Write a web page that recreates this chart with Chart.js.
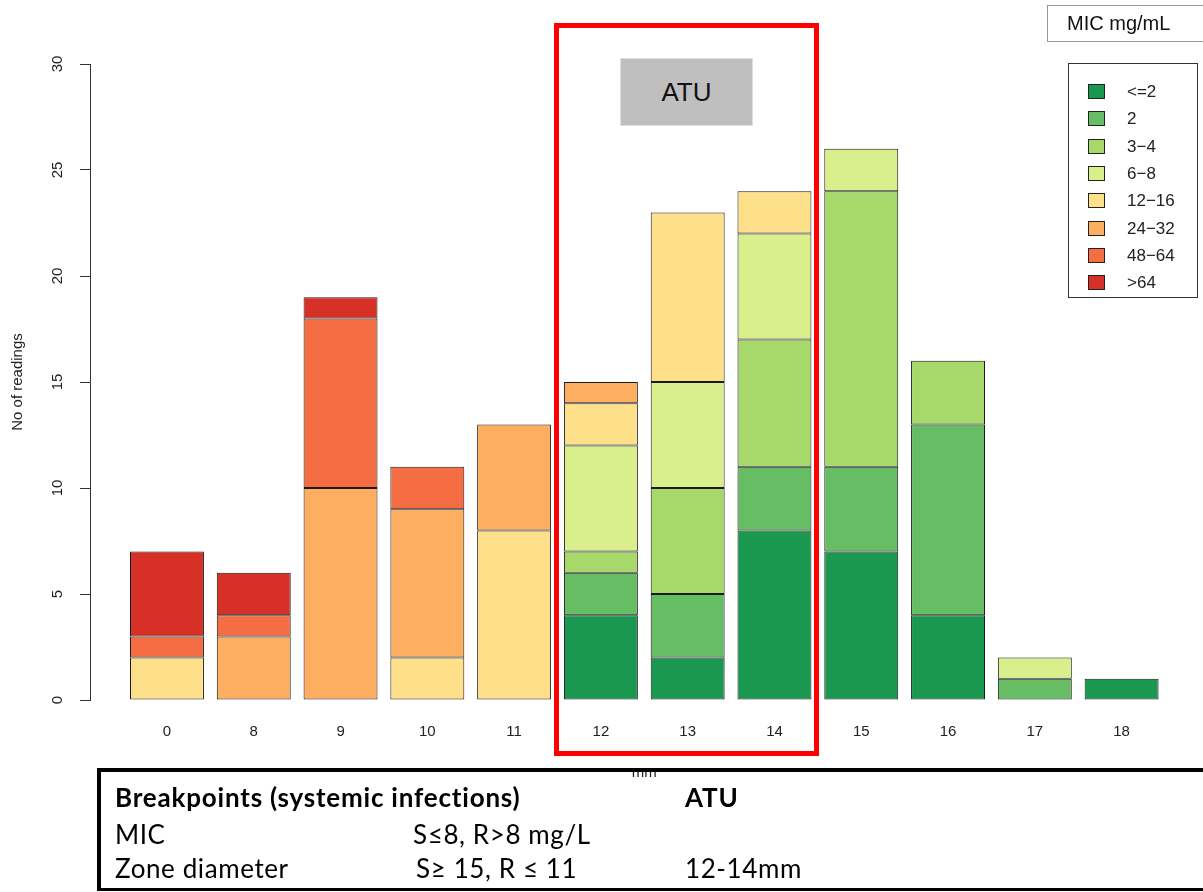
<!DOCTYPE html>
<html>
<head>
<meta charset="utf-8">
<script src="https://cdn.jsdelivr.net/npm/chart.js@4.4.0/dist/chart.umd.min.js"></script>
<style>
html,body{margin:0;padding:0;background:#fff;width:1203px;height:892px;overflow:hidden;}
#wrap{position:relative;width:1203px;height:892px;overflow:hidden;}
#c{position:absolute;left:0;top:0;}
#atuRect{position:absolute;left:554px;top:23px;width:265px;height:733px;box-sizing:border-box;border:5px solid #ff0000;}
#atuLabel{position:absolute;left:620px;top:58px;width:133px;height:68px;background:#bfbfbf;border:1px solid #dedede;box-sizing:border-box;
  font:26px "Liberation Sans",Arial,sans-serif;color:#111;text-align:center;line-height:66px;}
#micTitle{position:absolute;left:1047px;top:5px;width:170px;height:37px;box-sizing:border-box;border:1px solid #9a9a9a;
  font:20px "Liberation Sans",Arial,sans-serif;color:#111;line-height:35px;padding-left:19px;}
#legend{position:absolute;left:1068px;top:63px;width:130px;height:235px;box-sizing:border-box;border:1px solid #333;}
.lg{position:absolute;left:0;height:20px;width:128px;}
.sw{position:absolute;left:19px;top:2px;width:17px;height:15px;box-sizing:border-box;border:1px solid #222;}
.lt{position:absolute;left:58px;top:0;font:17px "Liberation Sans",Arial,sans-serif;color:#222;line-height:20px;}
#table{position:absolute;left:97px;top:768px;width:1130px;height:123px;box-sizing:border-box;border:4px solid #000;border-bottom-width:3px;}
.tt{position:absolute;font-family:Lato,"Noto Sans",sans-serif;font-size:26px;letter-spacing:0.6px;color:#000;line-height:30px;white-space:nowrap;}
.tb{font-weight:bold;letter-spacing:0.8px;}
</style>
</head>
<body>
<div id="wrap">
  <canvas id="c" width="1203" height="892"></canvas>
  <div id="atuRect"></div>
  <div id="atuLabel">ATU</div>
  <div id="micTitle">MIC mg/mL</div>
  <div id="legend"></div>
  <div id="table">
    <div class="tt tb" style="left:14px;top:10px;">Breakpoints (systemic infections)</div>
    <div class="tt tb" style="left:584px;top:10px;">ATU</div>
    <div class="tt" style="left:14px;top:47px;">MIC</div>
    <div class="tt" style="left:312px;top:47px;">S≤8, R&gt;8 mg/L</div>
    <div class="tt" style="left:14px;top:81px;">Zone diameter</div>
    <div class="tt" style="left:315px;top:81px;">S≥ 15, R ≤ 11</div>
    <div class="tt" style="left:584px;top:81px;">12-14mm</div>
  </div>
</div>
<script>
// ---- data ----
const zoneDiameters = ['0','8','9','10','11','12','13','14','15','16','17','18'];
const micClasses = ['<=2','2','3\u22124','6\u22128','12\u221216','24\u221232','48\u221264','>64'];
const micColors = ['#1a9850','#66bd63','#a6d96a','#d9ef8b','#fee08b','#fdae61','#f46d43','#d73027'];
const countsLe2   = [0,0,0,0,0,4,2,8,7,4,0,1];
const counts2     = [0,0,0,0,0,2,3,3,4,9,1,0];
const counts3to4  = [0,0,0,0,0,1,5,6,13,3,0,0];
const counts6to8  = [0,0,0,0,0,5,5,5,2,0,1,0];
const counts12to16= [2,0,0,2,8,2,8,2,0,0,0,0];
const counts24to32= [0,3,10,7,5,1,0,0,0,0,0,0];
const counts48to64= [1,1,8,2,0,0,0,0,0,0,0,0];
const countsGt64  = [4,2,1,0,0,0,0,0,0,0,0,0];
const yTicks = [0,5,10,15,20,25,30];
const yTitle = 'No of readings';
const xTitle = 'mm';

const seriesCounts = [countsLe2,counts2,counts3to4,counts6to8,counts12to16,counts24to32,counts48to64,countsGt64];

const datasets = seriesCounts.map((arr, k) => ({
  label: micClasses[k],
  data: arr.map((v, i) => ({x: i, y: v === 0 ? null : v})),
  backgroundColor: micColors[k],
  borderColor: '#1a1a1a',
  borderWidth: 1,
  borderSkipped: false,
  categoryPercentage: 0.852,
  barPercentage: 1.0
}));

// legend (HTML, built from the series arrays)
const lg = document.getElementById('legend');
micClasses.forEach((name, k) => {
  const row = document.createElement('div');
  row.className = 'lg';
  row.style.top = (18 + k * 27.3) + 'px';
  const sw = document.createElement('div');
  sw.className = 'sw';
  sw.style.background = micColors[k];
  const t = document.createElement('div');
  t.className = 'lt';
  t.textContent = name;
  row.appendChild(sw); row.appendChild(t);
  lg.appendChild(row);
});

const axisText = {
  id: 'axisText',
  afterDraw(chart) {
    const ctx = chart.ctx;
    const ys = chart.scales.y, xs = chart.scales.x;
    ctx.save();
    ctx.fillStyle = '#222';
    ctx.font = '15px "Liberation Sans", Arial, sans-serif';
    ctx.textAlign = 'center';
    ctx.textBaseline = 'middle';
    yTicks.forEach(v => {
      const py = ys.getPixelForValue(v);
      ctx.save();
      ctx.translate(58, py);
      ctx.rotate(-Math.PI / 2);
      ctx.fillText(String(v), 0, 0);
      ctx.restore();
    });
    ctx.save();
    ctx.translate(18, (ys.getPixelForValue(0) + ys.getPixelForValue(30)) / 2);
    ctx.rotate(-Math.PI / 2);
    ctx.fillText(yTitle, 0, 0);
    ctx.restore();
    const cx = (xs.getPixelForValue(0) + xs.getPixelForValue(zoneDiameters.length - 1)) / 2;
    ctx.textBaseline = 'alphabetic';
    ctx.fillText(xTitle, cx, 777);
    ctx.restore();
  }
};

new Chart(document.getElementById('c'), {
  type: 'bar',
  data: { datasets },
  plugins: [axisText],
  options: {
    responsive: false,
    animation: false,
    layout: { padding: { top: 64, right: 38, left: 0, bottom: 0 } },
    plugins: { legend: { display: false }, tooltip: { enabled: false } },
    scales: {
      x: {
        type: 'linear',
        stacked: true,
        offset: false,
        min: -0.887,
        max: 11.5,
        afterBuildTicks: s => { s.ticks = zoneDiameters.map((_, i) => ({ value: i })); },
        afterFit: s => { s.height = 192; },
        grid: { display: false, drawTicks: false },
        border: { display: false },
        ticks: {
          autoSkip: false, maxRotation: 0, minRotation: 0,
          padding: 23,
          color: '#222',
          font: { size: 15, family: '"Liberation Sans", Arial, sans-serif' },
          callback: v => zoneDiameters[v]
        }
      },
      y: {
        stacked: true,
        min: 0, max: 30,
        afterBuildTicks: s => { s.ticks = yTicks.map(v => ({ value: v })); },
        afterFit: s => { s.width = 90; },
        grid: { drawOnChartArea: false, drawTicks: true, tickLength: 10, color: '#333' },
        border: { display: true, color: '#333' },
        ticks: { display: false }
      }
    }
  }
});
</script>
</body>
</html>
